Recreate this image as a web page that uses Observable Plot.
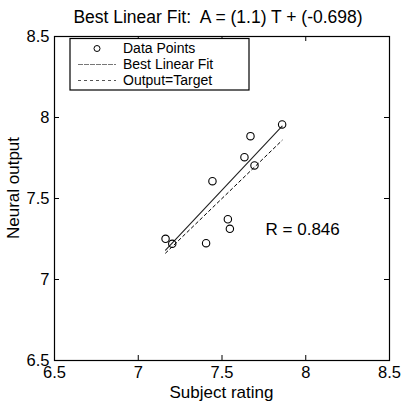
<!DOCTYPE html>
<html><head><meta charset="utf-8">
<script src="https://cdn.jsdelivr.net/npm/d3@7"></script>
<script src="https://cdn.jsdelivr.net/npm/@observablehq/plot@0.6"></script>
<style>body{margin:0;background:#fff}svg{display:block}</style>
</head><body><div id="chart"></div>
<script>
const subjectRating = [7.163, 7.203, 7.405, 7.443, 7.535, 7.547, 7.634, 7.670, 7.694, 7.859];
const neuralOutput  = [7.251, 7.220, 7.224, 7.607, 7.372, 7.313, 7.755, 7.885, 7.704, 7.957];
const fitSlope = 1.1, fitIntercept = -0.698;
const rValue = "0.846";
const xTicks = [6.5, 7, 7.5, 8, 8.5];
const yTicks = [6.5, 7, 7.5, 8, 8.5];
const titleText = "Best Linear Fit:  A = (1.1) T + (-0.698)";
const xLabel = "Subject rating", yLabel = "Neural output";
const legendLabels = ["Data Points", "Best Linear Fit", "Output=Target"];

const points = subjectRating.map((t, i) => ({t, a: neuralOutput[i]}));
const tMin = d3.min(subjectRating), tMax = d3.max(subjectRating);
const fitLine = [tMin, tMax].map(t => ({t, a: fitSlope * t + fitIntercept}));
const idLine = [tMin, tMax].map(t => ({t, a: t}));

const W = 402, H = 403, mL = 54, mR = 13, mT = 36, mB = 43;
const ph = H - mT - mB, pw = W - mL - mR, tl = 5;
const font = "'Liberation Sans', Arial, sans-serif";

const plot = Plot.plot({
  width: W, height: H,
  marginLeft: mL, marginRight: mR, marginTop: mT, marginBottom: mB,
  style: {fontFamily: font, fontSize: "16.5px", color: "#000", background: "#fff"},
  x: {domain: [6.5, 8.5], ticks: xTicks, label: null},
  y: {domain: [6.5, 8.5], ticks: yTicks, label: null},
  marks: [
    Plot.frame({stroke: "#000", strokeWidth: 1.2}),
    Plot.tickX(xTicks, {x: d => d, insetTop: ph - tl, stroke: "#000"}),
    Plot.tickX(xTicks, {x: d => d, insetBottom: ph - tl, stroke: "#000"}),
    Plot.tickY(yTicks, {y: d => d, insetRight: pw - tl, stroke: "#000"}),
    Plot.tickY(yTicks, {y: d => d, insetLeft: pw - tl, stroke: "#000"}),
    Plot.axisX({ticks: xTicks, tickSize: 0, tickPadding: 6, fontSize: 16.5, label: null, tickFormat: d => String(d)}),
    Plot.axisY({ticks: yTicks, tickSize: 0, tickPadding: 5, fontSize: 16.5, label: null, tickFormat: d => String(d)}),
    Plot.line(idLine, {x: "t", y: "a", stroke: "#000", strokeWidth: 1, strokeDasharray: "3,3"}),
    Plot.line(fitLine, {x: "t", y: "a", stroke: "#222", strokeWidth: 1.1}),
    Plot.dot(points, {x: "t", y: "a", r: 3.7, stroke: "#000", strokeWidth: 1.1, fill: "none"}),
    Plot.text([`R = ${rValue}`], {x: 7.76, y: 7.31, text: d => d, textAnchor: "start", fontSize: 17, fill: "#000"})
  ]
});
document.getElementById("chart").appendChild(plot);

const svg = d3.select(plot);
svg.append("text").attr("x", 218).attr("y", 23).attr("text-anchor", "middle")
  .style("font-family", font).style("font-size", "17.5px").text(titleText);
svg.append("text").attr("x", mL + pw / 2).attr("y", 398).attr("text-anchor", "middle")
  .style("font-family", font).style("font-size", "17px").text(xLabel);
svg.append("text").attr("transform", `translate(19,188) rotate(-90)`).attr("text-anchor", "middle")
  .style("font-family", font).style("font-size", "17px").text(yLabel);

// legend
const lg = svg.append("g").style("font-family", font).style("font-size", "14px");
lg.append("rect").attr("x", 70).attr("y", 38.5).attr("width", 179).attr("height", 51.5)
  .attr("fill", "#fff").attr("stroke", "#000").attr("stroke-width", 1.2);
const rowY = [48.5, 64.5, 80.5];
lg.append("circle").attr("cx", 97).attr("cy", rowY[0]).attr("r", 3).attr("fill", "none").attr("stroke", "#000");
lg.append("line").attr("x1", 78).attr("x2", 116).attr("y1", rowY[1]).attr("y2", rowY[1])
  .attr("stroke", "#777").attr("stroke-dasharray", "5,1");
lg.append("line").attr("x1", 78).attr("x2", 116).attr("y1", rowY[2]).attr("y2", rowY[2])
  .attr("stroke", "#555").attr("stroke-dasharray", "3,3");
legendLabels.forEach((s, i) => {
  lg.append("text").attr("x", 123).attr("y", rowY[i]).attr("dy", "0.35em")
    .attr("text-anchor", "start").text(s);
});
</script></body></html>
